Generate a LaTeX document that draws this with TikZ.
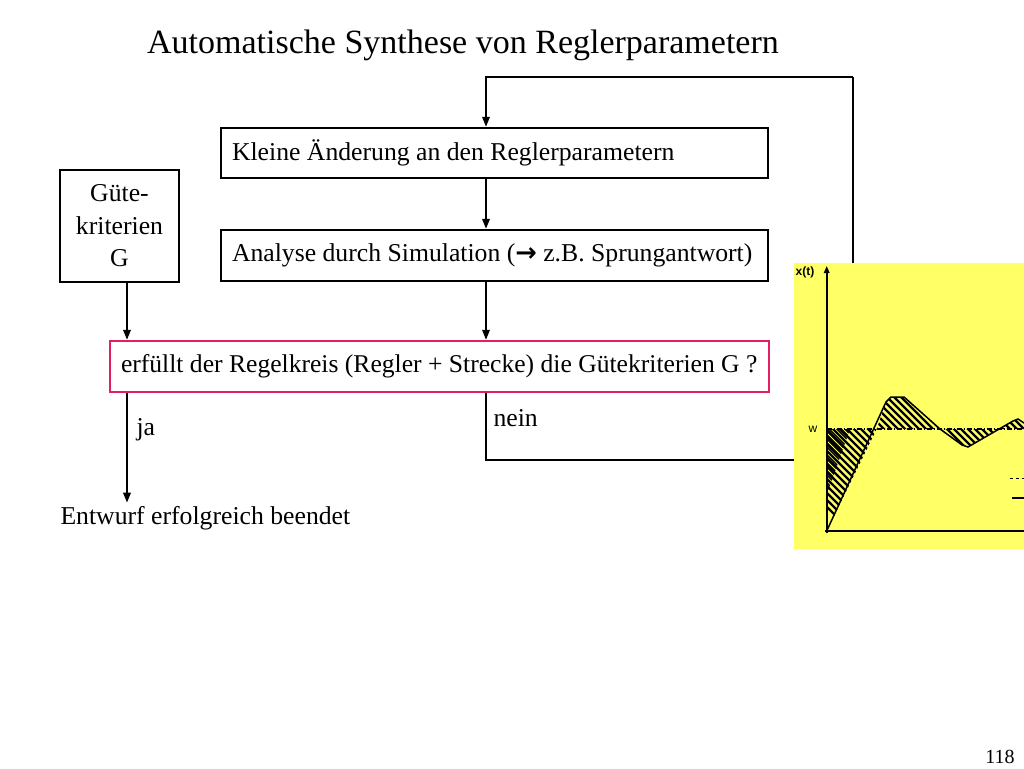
\documentclass[tikz,border=0pt]{standalone}
\usepackage{fontspec}
\setmainfont{Liberation Serif}
\newfontfamily\plotfont{Liberation Sans}
\newfontfamily\symfont{DejaVu Sans}
\usepackage{xcolor}
\usepackage{tikz}
\usetikzlibrary{positioning,calc,arrows.meta}
\definecolor{checkred}{RGB}{226,30,100}
\definecolor{plotyellow}{RGB}{255,255,102}

\begin{document}
\begin{tikzpicture}[x=1pt, y=-1pt,
    box/.style={draw, line width=2.4pt, inner xsep=11pt, inner ysep=0pt,
                font=\fontsize{25.7}{30}\selectfont},
    arr/.style={line width=1.9pt, -{Triangle[length=10pt,width=7.5pt]}},
    hatch/.style={line width=2.2pt}]
        % Frame
        \useasboundingbox (0,0) rectangle (1024,768);
        % Title
        \node (title) at (463,45) {\fontsize{34}{40}\selectfont Automatische Synthese von Reglerparametern};
        % Boxes
        \node[box, minimum height=50pt] (change) at (494.5,153)
            {\makebox[525pt][l]{Kleine Änderung an den Reglerparametern}};
        \node[box, minimum height=51pt] (sim) at (494.5,255.5)
            {\makebox[525pt][l]{Analyse durch Simulation ({\symfont\bfseries →} z.B. Sprungantwort)}};
        \node[box, text width=97pt, minimum height=112pt, align=center,
              font=\fontsize{25.7}{32.5}\selectfont] (crit) at (119.5,226) {Güte-\\kriterien\\G};
        \node[box, draw=checkred, minimum height=51pt, font=\fontsize{25.6}{30}\selectfont] (check) at (439.5,366.5)
            {\makebox[637pt][l]{erfüllt der Regelkreis (Regler + Strecke) die Gütekriterien G ?}};
        \node[anchor=west, font=\fontsize{25.7}{30}\selectfont] (done) at (57,518) {Entwurf erfolgreich beendet};
        % Connectors
        \coordinate (spine) at (486,0);
        \coordinate (loopR) at (853,460);
        \coordinate (loopT) at (853,77);
        \draw[arr] (change.south -| spine) -- (sim.north -| spine);
        \draw[arr] (sim.south -| spine) -- (check.north -| spine);
        \draw[arr] (crit.south -| 127,0) -- (check.north -| 127,0);
        \draw[arr] (check.south -| 127,0) -- (done.north -| 127,0);
        \draw[line width=1.9pt] (check.south -| spine) |- (loopR) -- (loopT);
        \draw[arr] (loopT) -| (change.north -| spine);
        % Labels
        \node[anchor=west, font=\fontsize{25.7}{30}\selectfont] (yes) at (133,430) {ja};
        \node[anchor=west, font=\fontsize{25.7}{30}\selectfont] (no) at (490,418) {nein};
        \node[font=\fontsize{20}{24}\selectfont] (page) at (1000,757) {118};
        % Step response plot
        \fill[plotyellow] (794,263) rectangle (1024,549);
        \begin{scope}
            \clip (826.7,429) -- (876.7,429) -- (826.7,531) -- cycle;
            \foreach \i in {700,707,...,900} {
                \draw[hatch] (\i,380) -- ++(160,160);
            }
            \clip (826.7,429) -- (850,429) -- (826.7,495) -- cycle;
            \foreach \i in {700,704,...,900} {
                \draw[line width=1.5pt] (\i,380) -- ++(160,160);
            }
        \end{scope}
        \begin{scope}
            \clip (876.7,429) -- (886,402) -- (891,397) -- (904,397) -- (940,429) -- cycle
                  (940,429) -- (962,445) -- (968,447) -- (999,429) -- cycle
                  (999,429) -- (1013,421) -- (1018,419) -- (1024,423) -- (1024,429) -- cycle;
            \foreach \i in {800,807,...,1040} {
                \draw[hatch] (\i,380) -- ++(100,100);
            }
        \end{scope}
        \draw[line width=1.2pt, dash pattern=on 5pt off 2pt on 1pt off 2pt] (826.7,429) -- (1024,429);
        \draw[line width=1.5pt] (826.7,531) -- (886,402) -- (891,397) -- (904,397) -- (940,429)
            -- (962,445) -- (968,447) -- (1013,421) -- (1018,419) -- (1024,423);
        \draw[line width=1.6pt, -{Triangle[length=7pt,width=5.5pt]}] (826.7,533) -- (826.7,266);
        \draw[line width=1.6pt] (825,531) -- (1024,531);
        \draw[line width=1pt, dashed] (1010,478) -- (1024,478);
        \draw[line width=1.3pt] (1012,498) -- (1024,498);
        \node[font=\plotfont\bfseries\fontsize{12}{14}\selectfont] (xt) at (805,272) {x(t)};
        \node[font=\plotfont\fontsize{12}{14}\selectfont] (w) at (813,429) {w};
    \end{tikzpicture}
\end{document}
